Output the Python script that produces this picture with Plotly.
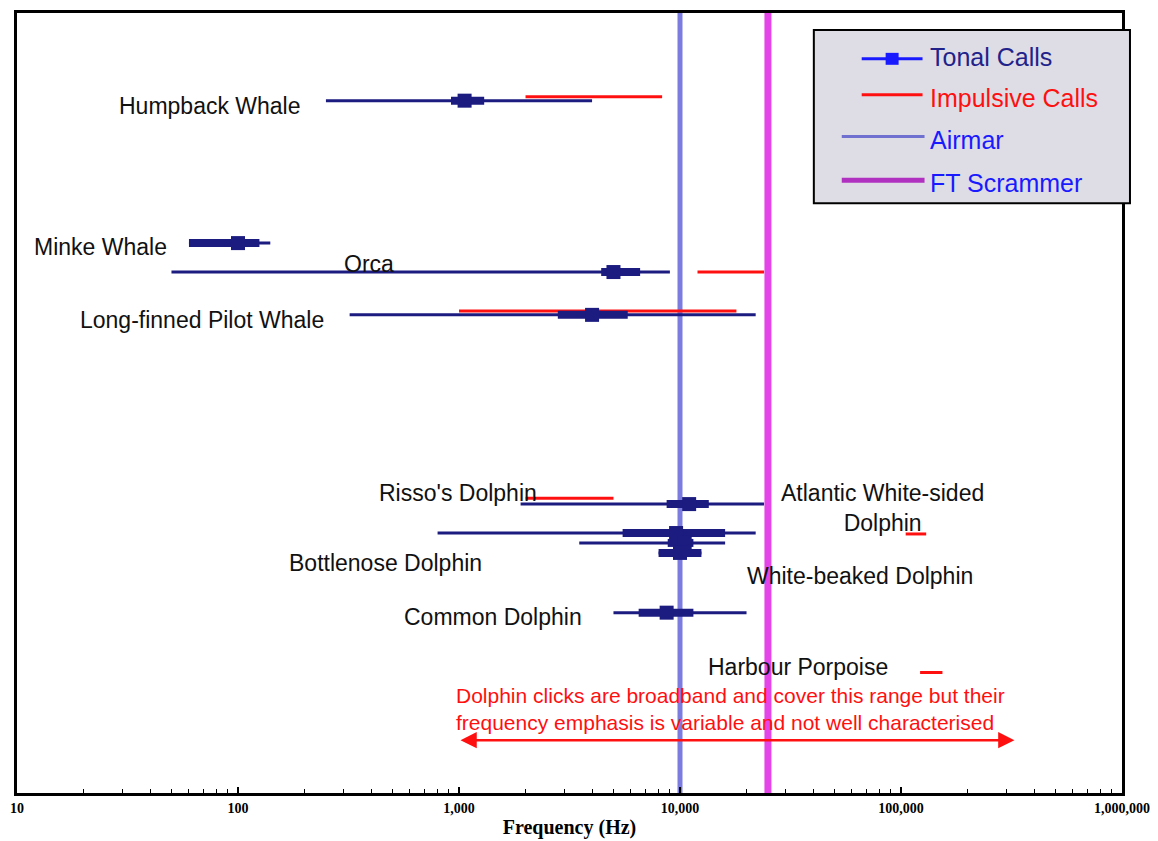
import math
import plotly.graph_objects as go

# ---------------- data ----------------
species = ["Humpback Whale", "Minke Whale", "Orca", "Long-finned Pilot Whale",
           "Risso's Dolphin", "Bottlenose Dolphin", "Atlantic White-sided Dolphin",
           "White-beaked Dolphin", "Common Dolphin"]
tonal_row = [88.76, 70.50, 66.79, 61.30, 37.04, 33.33, 32.06, 30.78, 23.12]
tonal_lo = [250, 60, 50, 320, 1900, 800, 3500, 8000, 5000]
tonal_hi = [4000, 140, 9000, 22000, 24000, 22000, 16000, 12500, 20000]
tonal_core_lo = [920, 60, 4400, 2800, 8700, 5500, 8800, 8000, 6500]
tonal_core_hi = [1300, 125, 6600, 5800, 13500, 16000, 11500, 12500, 11500]
tonal_peak = [1060, 100, 5000, 4000, 11000, 9600, 10500, 10000, 8700]

imp_species = ["Humpback Whale", "Orca", "Long-finned Pilot Whale", "Risso's Dolphin",
               "Atlantic White-sided Dolphin", "Harbour Porpoise"]
imp_row = [89.27, 66.79, 61.81, 37.80, 33.21, 15.45]
imp_lo = [2000, 12000, 1000, 2000, 105000, 122000]
imp_hi = [8300, 24000, 18000, 5000, 130000, 154000]

airmar_freq = 10000
scrammer_freq = 25000

click_range = [1000, 326000]
click_row = 6.77

label_text = ["Humpback Whale", "Minke Whale", "Orca", "Long-finned Pilot Whale",
              "Risso's Dolphin", "Atlantic White-sided<br>Dolphin", "Bottlenose Dolphin",
              "White-beaked Dolphin", "Common Dolphin", "Harbour Porpoise"]
label_freq = [28.5, 11.8, 300, 19.0, 430, 82600, 168, 19800, 560, 13300]
label_row = [88.12, 69.99, 67.82, 60.66, 38.44, 36.53, 29.50, 27.84, 22.61, 16.1]
label_anchor = ["left", "left", "left", "left", "left", "center", "left", "left", "left", "left"]

note_text = ("Dolphin clicks are broadband and cover this range but their<br>"
             "frequency emphasis is variable and not well characterised")
note_freq = 16850
note_row = 10.8

tick_vals = [10, 100, 1000, 10000, 100000, 1000000]
tick_text = ["10", "100", "1,000", "10,000", "100,000", "1,000,000"]

# ---------------- styling ----------------
NAVY = "#1b1b80"
RED = "#ff1010"
AIRMAR = "#7c7ce0"
SCRAM = "#e445e8"
SANS = "Liberation Sans, Arial, sans-serif"
SERIF = "Liberation Serif, Times New Roman, serif"


def segs(lo, hi, rows):
    xs, ys = [], []
    for a, b, r in zip(lo, hi, rows):
        xs += [a, b, None]
        ys += [r, r, None]
    return xs, ys


fig = go.Figure()

# reference lines
fig.add_trace(go.Scatter(x=[airmar_freq, airmar_freq], y=[0, 100], mode="lines",
                         line=dict(color=AIRMAR, width=5), name="Airmar", showlegend=False))
fig.add_trace(go.Scatter(x=[scrammer_freq, scrammer_freq], y=[0, 100], mode="lines",
                         line=dict(color=SCRAM, width=7), name="FT Scrammer", showlegend=False))

# impulsive calls
x, y = segs(imp_lo, imp_hi, imp_row)
fig.add_trace(go.Scatter(x=x, y=y, mode="lines", line=dict(color=RED, width=3),
                         name="Impulsive Calls", showlegend=False, hoverinfo="skip"))

# tonal calls: full range
x, y = segs(tonal_lo, tonal_hi, tonal_row)
fig.add_trace(go.Scatter(x=x, y=y, mode="lines", line=dict(color=NAVY, width=3),
                         name="Tonal Calls", showlegend=False, hoverinfo="skip"))
# tonal calls: core range
x, y = segs(tonal_core_lo, tonal_core_hi, tonal_row)
fig.add_trace(go.Scatter(x=x, y=y, mode="lines", line=dict(color=NAVY, width=8),
                         name="Tonal Calls core", showlegend=False, hoverinfo="skip"))
# tonal peak
fig.add_trace(go.Scatter(x=tonal_peak, y=tonal_row, mode="markers", text=species,
                         marker=dict(symbol="square", size=14, color=NAVY),
                         name="Tonal Calls peak", showlegend=False))

annotations = []
for t, f, r, a in zip(label_text, label_freq, label_row, label_anchor):
    annotations.append(dict(x=math.log10(f), y=r, xref="x", yref="y", text=t,
                            showarrow=False, xanchor=a, yanchor="middle", align="center",
                            borderpad=0,
                            font=dict(family=SANS, size=23, color="#111111")))
annotations.append(dict(x=math.log10(note_freq), y=note_row, xref="x", yref="y",
                        text=note_text, showarrow=False, xanchor="center", yanchor="middle",
                        align="left", borderpad=0,
                        font=dict(family=SANS, size=21, color=RED)))
# double-headed arrow
annotations.append(dict(x=math.log10(click_range[1]), y=click_row, xref="x", yref="y",
                        ax=math.log10(click_range[0]), ay=click_row, axref="x", ayref="y",
                        text="", showarrow=True, arrowside="end+start", arrowhead=2,
                        startarrowhead=2, arrowsize=1.3, startarrowsize=1.3,
                        arrowwidth=2.5, arrowcolor=RED))

# ---------------- manual legend ----------------
def px(xp):
    return (xp - 14) / 1108.0


def py(yp):
    return (793 - yp) / 783.0


shapes = [
    dict(type="rect", xref="paper", yref="paper", x0=px(813), x1=px(1130), y0=py(201), y1=py(27),
         fillcolor="#dedde6", line=dict(color="black", width=2), layer="above"),
    dict(type="line", xref="paper", yref="paper", x0=px(861), x1=px(922), y0=py(56), y1=py(56),
         line=dict(color="#1a1aff", width=3), layer="above"),
    dict(type="rect", xref="paper", yref="paper", x0=px(885), x1=px(898), y0=py(62), y1=py(50),
         fillcolor="#1a1aff", line=dict(color="#1a1aff", width=0), layer="above"),
    dict(type="line", xref="paper", yref="paper", x0=px(861), x1=px(922), y0=py(92), y1=py(92),
         line=dict(color=RED, width=3), layer="above"),
    dict(type="line", xref="paper", yref="paper", x0=px(841), x1=px(924), y0=py(134), y1=py(134),
         line=dict(color="#7070d0", width=3), layer="above"),
    dict(type="line", xref="paper", yref="paper", x0=px(841), x1=px(924), y0=py(178), y1=py(178),
         line=dict(color="#b030c0", width=5), layer="above"),
]
legend_items = [("Tonal Calls", "#22228a", 54), ("Impulsive Calls", RED, 95),
                ("Airmar", "#1a1aff", 137), ("FT Scrammer", "#1a1aff", 181)]
for t, c, yp in legend_items:
    annotations.append(dict(x=px(927), y=py(yp), xref="paper", yref="paper", text=t,
                            showarrow=False, xanchor="left", yanchor="middle",
                            font=dict(family=SANS, size=25, color=c)))

minor_vals = [m * 10 ** d for d in range(1, 6) for m in range(2, 10)]

fig.update_layout(
    width=1150, height=833,
    margin=dict(l=6, r=36, t=2, b=48),
    paper_bgcolor="white", plot_bgcolor="white",
    showlegend=False,
    annotations=annotations,
    shapes=shapes,
    xaxis=dict(type="log", range=[1, 6], tickmode="array", tickvals=tick_vals,
               ticktext=["<b>%s</b>" % s for s in tick_text],
               tickfont=dict(family=SERIF, size=14, color="black"),
               ticklabeloverflow="allow",
               showgrid=False, zeroline=False, showline=True, linecolor="black",
               linewidth=3, mirror=True, ticks="inside", ticklen=6, tickwidth=1.5,
               tickcolor="black",
               minor=dict(tickmode="array", tickvals=minor_vals, ticks="inside",
                          ticklen=4, tickwidth=1, tickcolor="black", showgrid=False),
               title=dict(text="<b>Frequency (Hz)</b>", standoff=6,
                          font=dict(family=SERIF, size=20, color="black"))),
    yaxis=dict(range=[0, 100], showticklabels=False, showgrid=False, zeroline=False,
               showline=True, linecolor="black", linewidth=3, mirror=True, ticks=""),
)

fig.write_html("out.html")
